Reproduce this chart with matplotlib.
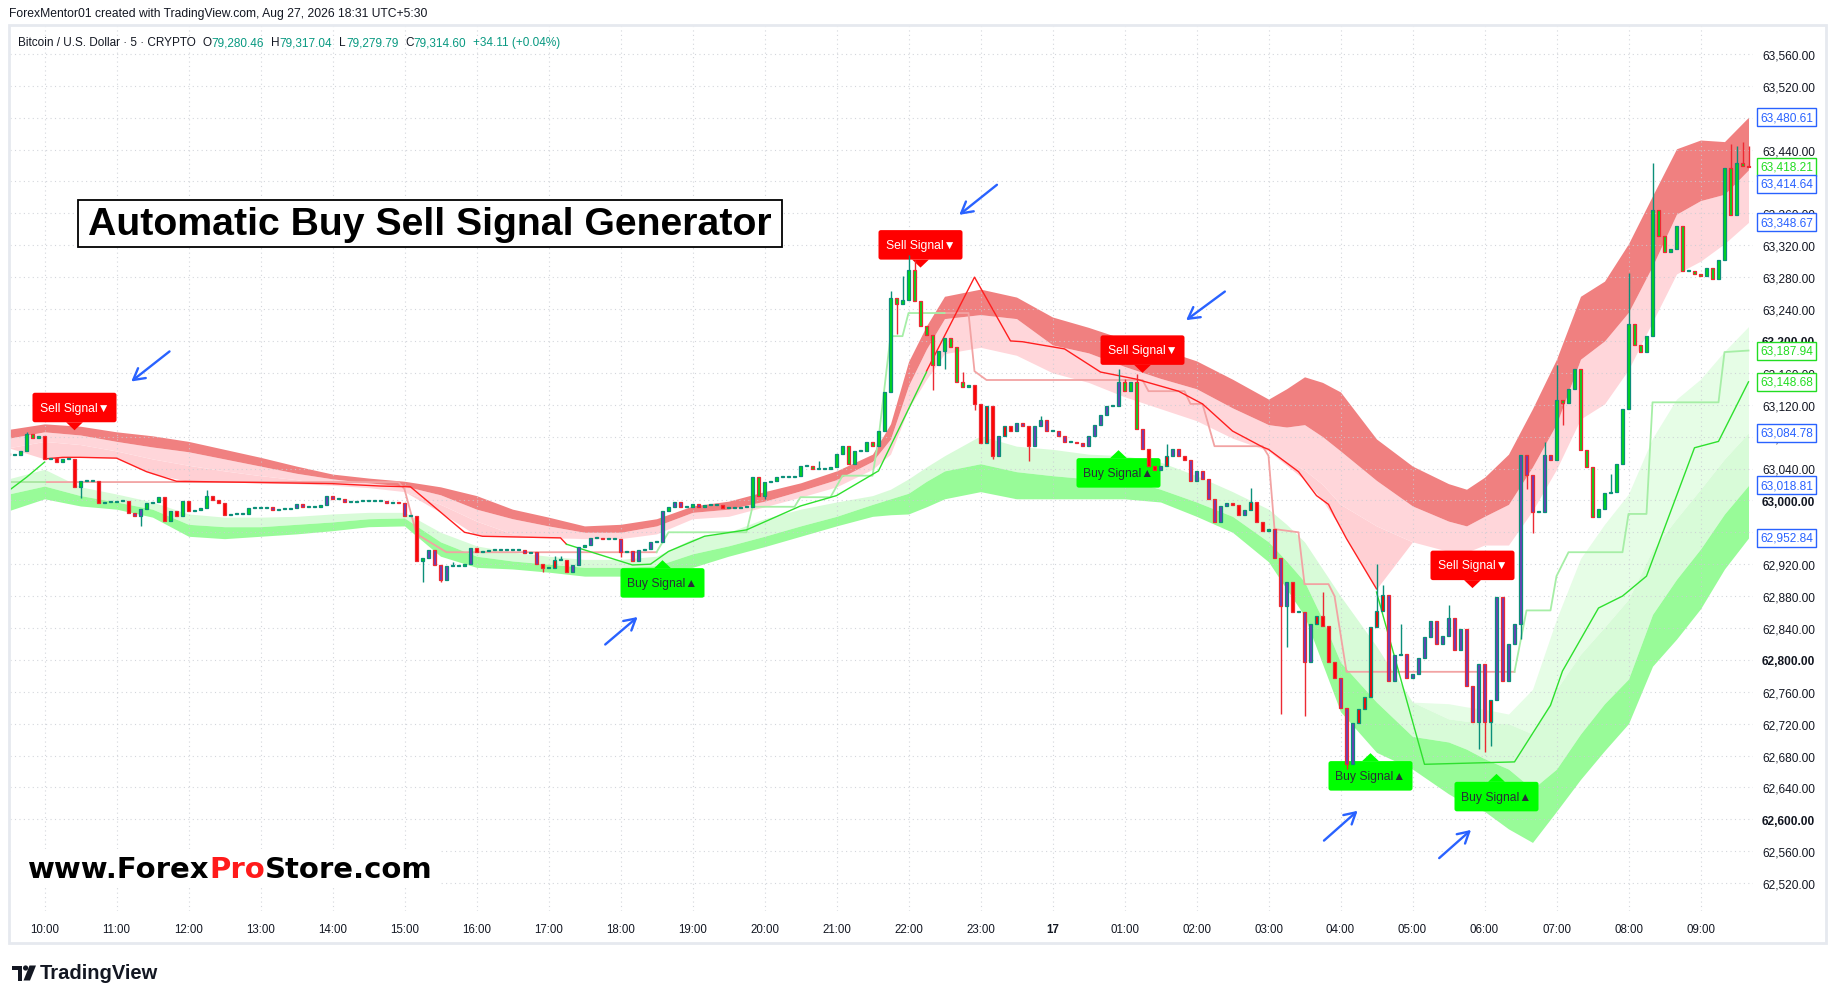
import matplotlib
matplotlib.use("Agg")
import matplotlib.pyplot as plt
from matplotlib.patches import Rectangle, Polygon, FancyBboxPatch, Circle
import numpy as np
import pandas as pd

plt.rcParams["font.family"] = ["Liberation Sans", "DejaVu Sans"]

# ---------------- candles: 5-minute bars, 09:30 (day 16) -> 09:40 (day 17) ----------------
first_open = 63060
closes = [
    63057, 63057, 63062, 63083, 63078, 63081,
    63052, 63053, 63048, 63052, 63052, 63017, 63024, 63024, 63024, 62997, 62998, 62998,
    62999, 62999, 62984, 62980, 62989, 62997, 62998, 63004, 62974, 62987, 62980, 62999,
    62987, 62988, 62990, 63006, 63000, 62997, 62982, 62983, 62983, 62983, 62990, 62990,
    62990, 62992, 62988, 62989, 62989, 62990, 62995, 62992, 62992, 62992, 62994, 63006,
    63002, 63002, 62998, 62998, 62999, 62999, 62999, 62999, 62999, 62997, 62998, 62997,
    62980, 62980, 62924, 62928, 62938, 62919, 62900, 62918, 62918, 62918, 62920, 62940,
    62935, 62937, 62938, 62938, 62938, 62938, 62938, 62938, 62934, 62935, 62920, 62915,
    62915, 62925, 62925, 62910, 62919, 62942, 62944, 62953, 62953, 62952, 62952, 62952,
    62935, 62937, 62924, 62938, 62939, 62948, 62948, 62987, 62992, 62998, 62992, 62992,
    62995, 62992, 62994, 62994, 62994, 62990, 62990, 62990, 62992, 62992, 63029, 63006,
    63023, 63024, 63029, 63029, 63029, 63031, 63043, 63043, 63039, 63039, 63039, 63042,
    63058, 63068, 63046, 63062, 63062, 63073, 63068, 63087, 63136, 63254, 63246, 63251,
    63289, 63250, 63219, 63207, 63170, 63187, 63204, 63192, 63149, 63142, 63145, 63121,
    63072, 63118, 63056, 63081, 63093, 63087, 63097, 63093, 63068, 63093, 63101, 63087,
    63087, 63081, 63073, 63073, 63072, 63068, 63081, 63095, 63107, 63118, 63118, 63149,
    63137, 63149, 63090, 63064, 63043, 63038, 63043, 63056, 63064, 63056, 63051, 63024,
    63037, 63027, 63002, 62973, 62993, 62997, 62994, 62982, 62988, 62998, 62973, 62962,
    62964, 62928, 62868, 62898, 62860, 62860, 62797, 62845, 62855, 62842, 62797, 62777,
    62740, 62669, 62721, 62738, 62753, 62841, 62861, 62881, 62773, 62806, 62807, 62777,
    62782, 62802, 62829, 62849, 62820, 62830, 62852, 62812, 62839, 62767, 62722, 62795,
    62722, 62750, 62879, 62773, 62820, 62845, 63057, 63032, 62985, 62985, 63057, 63051,
    63126, 63122, 63140, 63165, 63063, 63042, 62979, 62989, 63009, 63011, 63046, 63115,
    63221, 63195, 63186, 63206, 63364, 63332, 63312, 63315, 63344, 63288, 63288, 63284,
    63281, 63292, 63278, 63302, 63417, 63358, 63423, 63420, 63418,
]
# body colour state per bar: g = green, r = red, p = purple
fills = ("grgggg"
         "rrrggrggrrrr" "grrppgggrgrg" "rgggrrrrgrgr" "ggprggpprggp" "pgprgggggppp"
         "pgrgppppgggp" "rggrrrgrpgpr" "grrrppgprgrg" "pgppgprpgppg" "gpgggrrrgggg"
         "ggggrggggrrg" "ggggrggggggg" "gggggggggggr" "rrrprrpprppp" "rppppppppprp"
         "gggprrprpprp" "pppppprrprrr" "gppprgpprrrr" "ppprrrrrppgp" "pppppppppppp"
         "prppppppprpp" "gggggggggggg" "gggggggggggg" "ggggggggr")
wick_hi = [("09:45", 63086), ("12:15", 63013), ("15:40", 62923), ("17:05", 62930), ("17:10", 62930),
           ("20:45", 63049), ("21:45", 63263), ("21:55", 63281), ("22:00", 63308), ("22:05", 63302),
           ("22:45", 63161), ("23:50", 63106), ("00:55", 63165), ("01:00", 63152), ("01:10", 63159),
           ("01:35", 63071), ("02:45", 63016), ("03:45", 62885), ("04:30", 62920), ("04:35", 62894),
           ("04:50", 62845), ("05:30", 62869), ("06:50", 63073), ("07:00", 63170), ("07:45", 63033),
           ("08:00", 63285), ("08:20", 63423), ("09:25", 63447), ("09:30", 63444), ("09:35", 63450),
           ("09:40", 63445)]
wick_lo = [("10:30", 63003), ("11:20", 62968), ("15:15", 62898), ("15:30", 62898), ("16:55", 62910),
           ("18:00", 62929), ("20:00", 63002), ("21:50", 63209), ("22:20", 63138), ("22:30", 63165),
           ("22:55", 63113), ("23:10", 63052), ("23:40", 63049), ("03:10", 62732), ("03:15", 62816),
           ("03:30", 62730), ("04:05", 62663), ("04:20", 62740), ("05:55", 62688), ("06:00", 62684),
           ("06:05", 62692), ("06:30", 62826), ("06:35", 63014), ("06:40", 62959), ("07:05", 63095)]

# ---------------- cloud bands ----------------
band_t = ["09:30", "10:00", "10:30", "11:00", "11:30", "12:00", "12:30", "13:00", "13:30", "14:00",
          "14:30", "15:00", "15:30", "16:00", "16:30", "17:00", "17:30", "18:00", "18:30", "19:00",
          "19:30", "20:00", "20:30", "21:00", "21:30", "21:45", "22:00", "22:15", "22:30", "23:00",
          "23:30", "00:00", "00:30", "01:00", "01:30", "02:00", "02:30", "03:00", "03:15", "03:30",
          "03:45", "04:00", "04:30", "05:00", "05:30", "05:45", "06:00", "06:20", "06:40", "07:00",
          "07:20", "07:40", "08:00", "08:20", "08:40", "09:00", "09:20", "09:40"]
red_top = [63089, 63096, 63093, 63086, 63081, 63074, 63064, 63054, 63043, 63033,
           63028, 63024, 63017, 63006, 62989, 62979, 62968, 62970, 62977, 62993,
           62999, 63011, 63022, 63037, 63058, 63096, 63174, 63219, 63256, 63265,
           63255, 63230, 63217, 63202, 63190, 63175, 63152, 63127, 63140, 63155,
           63148, 63136, 63077, 63043, 63021, 63014, 63029, 63058, 63115, 63177,
           63256, 63275, 63322, 63382, 63441, 63452, 63450, 63480.61]
red_mid = [63078, 63086, 63082, 63074, 63067, 63061, 63052, 63043, 63034, 63027,
           63022, 63018, 63007, 62989, 62977, 62968, 62960, 62960, 62968, 62985,
           62989, 62999, 63012, 63026, 63049, 63077, 63144, 63190, 63228, 63233,
           63228, 63195, 63185, 63168, 63153, 63140, 63116, 63095, 63092, 63095,
           63080, 63062, 63025, 62993, 62974, 62968, 62980, 62995, 63042, 63096,
           63177, 63200, 63236, 63294, 63359, 63376, 63384, 63414.64]
red_low = [63066, 63074, 63070, 63062, 63052, 63044, 63037, 63031, 63026, 63019,
           63016, 63011, 62995, 62974, 62958, 62954, 62952, 62952, 62958, 62977,
           62980, 62992, 63004, 63017, 63039, 63058, 63115, 63152, 63184, 63192,
           63182, 63160, 63148, 63130, 63115, 63100, 63078, 63062, 63050, 63038,
           63020, 62995, 62968, 62948, 62936, 62935, 62944, 62944, 62987, 63039,
           63102, 63121, 63164, 63224, 63284, 63300, 63322, 63348.67]
pink_low = [63066, 63052, 63054, 63053, 63033, 63024, 63023, 63022, 63021, 63019,
            63016, 63011, 62985, 62956, 62954, 62953, 62952, 62952, 62958, 62977,
            62980, 62992, 63004, 63017, 63039, 63058, 63115, 63152, 63184, 63192,
            63182, 63160, 63148, 63130, 63115, 63100, 63078, 63062, 63044, 63026,
            63000, 62966, 62889, 62948, 62936, 62935, 62944, 62944, 62987, 63039,
            63102, 63121, 63164, 63224, 63284, 63300, 63322, 63348.67]
green_glow = [63027, 63039, 63017, 63008, 62998, 62983, 62979, 62979, 62980, 62983,
              62985, 62985, 62960, 62943, 62935, 62930, 62926, 62926, 62930, 62952,
              62960, 62977, 62989, 62998, 63006, 63014, 63027, 63042, 63056, 63081,
              63068, 63064, 63058, 63056, 63048, 63031, 63011, 62989, 62970, 62948,
              62914, 62880, 62817, 62747, 62745, 62741, 62738, 62732, 62763, 62851,
              62927, 62970, 63008, 63078, 63127, 63152, 63187, 63218]
green_top = [63027, 63039, 63017, 63008, 62998, 62983, 62979, 62979, 62980, 62983,
             62985, 62985, 62960, 62943, 62935, 62930, 62926, 62926, 62930, 62952,
             62960, 62977, 62989, 62998, 63006, 63014, 63027, 63042, 63056, 63081,
             63068, 63064, 63058, 63056, 63048, 63031, 63011, 62989, 62970, 62948,
             62914, 62880, 62817, 62747, 62726, 62723, 62722, 62720, 62707, 62763,
             62807, 62841, 62876, 62938, 62977, 63014, 63052, 63084.78]
green_mid = [63008, 63018, 63006, 62998, 62989, 62970, 62967, 62967, 62970, 62973,
             62977, 62978, 62948, 62930, 62924, 62920, 62916, 62916, 62918, 62933,
             62943, 62955, 62968, 62980, 62995, 63002, 63009, 63024, 63037, 63046,
             63036, 63031, 63027, 63027, 63014, 62998, 62980, 62948, 62924, 62898,
             62851, 62797, 62747, 62704, 62697, 62688, 62676, 62663, 62638, 62663,
             62707, 62745, 62776, 62857, 62901, 62939, 62983, 63018.81]
green_low = [62987, 63002, 62993, 62989, 62979, 62955, 62952, 62955, 62958, 62962,
             62967, 62968, 62930, 62916, 62914, 62910, 62905, 62905, 62910, 62916,
             62930, 62942, 62955, 62968, 62980, 62982, 62983, 62992, 63002, 63011,
             63002, 63002, 63002, 63002, 62998, 62980, 62960, 62923, 62889, 62855,
             62795, 62735, 62684, 62663, 62632, 62619, 62610, 62588, 62571, 62610,
             62650, 62686, 62720, 62792, 62826, 62864, 62914, 62952.84]

# ---------------- thin trailing lines (segments) ----------------
red_line = [
    (["10:00", "10:15", "10:30", "11:00", "11:25", "11:50", "14:00", "14:40", "15:05", "15:50",
      "16:05", "17:10", "17:15"],
     [63052, 63054, 63054, 63053, 63036, 63024, 63021, 63018, 63017, 62960, 62955, 62953, 62945]),
    (["22:15", "22:55", "23:25", "23:35", "00:10", "00:40", "01:10", "01:45", "02:05", "02:30",
      "02:55", "03:00", "03:25", "03:40", "03:50", "03:55", "04:05", "04:30"],
     [63162, 63280, 63200, 63199, 63190, 63161, 63152, 63137, 63121, 63087,
      63067, 63064, 63036, 63006, 62995, 62980, 62952, 62889]),
]
green_line = [
    (["09:30", "09:45", "10:00"], [63012, 63029, 63048]),
    (["17:15", "18:10", "18:25", "18:40", "19:10", "19:45", "20:30", "21:00", "21:35", "22:15"],
     [62945, 62919, 62920, 62936, 62955, 62963, 62993, 63006, 63037, 63161]),
    (["04:30", "05:10", "06:25", "06:55", "07:05", "07:35", "07:55", "08:15", "08:55", "09:15", "09:40"],
     [62885, 62669, 62672, 62743, 62786, 62865, 62880, 62905, 63066, 63074, 63148.68]),
]
red_step = [
    (["09:30", "14:55", "15:00", "15:10", "15:35", "18:30"], [63023, 63023, 63014, 62958, 62935, 62935]),
    (["22:30", "22:50", "22:55", "23:05", "01:15", "01:20", "01:50", "01:55", "02:05", "02:15",
      "02:55", "03:00", "03:05", "03:25", "03:30", "03:50", "03:55", "04:05", "06:25"],
     [63235, 63235, 63162, 63151, 63151, 63137, 63137, 63121, 63121, 63068,
      63068, 63056, 62964, 62960, 62895, 62895, 62880, 62785, 62785]),
]
green_step = [
    (["09:30", "10:00"], [63023, 63023]),
    (["18:30", "18:40", "19:45", "19:50", "20:25", "20:30", "20:55", "21:05", "21:30", "21:35",
      "21:45", "21:55", "22:00", "22:30"],
     [62935, 62960, 62960, 62992, 62992, 63004, 63004, 63031, 63031, 63077, 63206, 63206, 63235, 63235]),
    (["06:25", "06:35", "06:55", "07:00", "07:10", "07:55", "08:00", "08:15", "08:20", "09:15",
      "09:20", "09:40"],
     [62785, 62862, 62862, 62905, 62935, 62935, 62983, 62983, 63123, 63123, 63186, 63187.94]),
]

# signal labels: (kind, bar time, price at the pointer tip)
signals = [("Sell", "10:25", 63088), ("Sell", "22:10", 63292), ("Sell", "01:15", 63160),
           ("Sell", "05:50", 62890), ("Buy", "18:35", 62925), ("Buy", "00:55", 63063),
           ("Buy", "04:25", 62683), ("Buy", "06:10", 62657)]
# hand-drawn blue arrows: (tail, head) as (bar, price)
arrows = [((27.2, 63189), (20.1, 63147)), ((165.1, 63398), (158.1, 63356)),
          ((203.1, 63264), (195.9, 63224)), ((99.1, 62817), (105.2, 62856)),
          ((218.9, 62571), (225.2, 62613)), ((238.1, 62549), (244.1, 62589))]
price_tags = [63480.61, 63418.21, 63414.64, 63348.67, 63187.94, 63148.68, 63084.78, 63018.81, 62952.84]
tag_kind = ["b", "g", "b", "b", "g", "g", "b", "b", "b"]

TEXT = "#131722"
TEAL = "#0b8f7a"
RED_EDGE = "#ec2a33"
FILL = {"g": "#00d81a", "r": "#ff0000", "p": "#6a3db8"}
BLUE = "#2962ff"
LGREEN = "#22dd22"


def to_idx(times):
    out, prev = [], -1
    for t in times:
        h, m = map(int, t.split(":"))
        mins = h * 60 + m
        if mins < 570:
            mins += 1440
        while mins < prev:
            mins += 1440
        prev = mins
        out.append((mins - 570) / 5)
    return np.array(out)


W, H = 1835, 1004
fig = plt.figure(figsize=(W / 100, H / 100), dpi=100)
fig.patch.set_facecolor("white")
ax = fig.add_axes([10 / W, 1 - 912 / H, 1743 / W, 885 / H])
ax.set_xlim(0.25, 290.75)
ax.set_ylim(62485, 63595)
for s in ax.spines.values():
    s.set_visible(False)

# bands
bx = to_idx(band_t)
ax.fill_between(bx, pink_low, red_low, color="#ffd0d4", lw=0, zorder=1)
ax.fill_between(bx, red_low, red_mid, color="#ffd6da", lw=0, zorder=1)
ax.fill_between(bx, red_mid, red_top, color="#f08080", lw=0, zorder=1)
ax.fill_between(bx, green_top, green_glow, color="#e6fde6", lw=0, zorder=1)
ax.fill_between(bx, green_mid, green_top, color="#d8fbd8", lw=0, zorder=1)
ax.fill_between(bx, green_low, green_mid, color="#98fb98", lw=0, zorder=1)

# grid above the clouds, as in the reference
ax.set_axisbelow(False)
ax.grid(True, color="#c9ccd3", lw=0.8, ls=(0, (1, 3)), alpha=0.8)

for t, v in red_step:
    ax.plot(to_idx(t), v, color="#f2a3a3", lw=1.3, zorder=2.6)
for t, v in green_step:
    ax.plot(to_idx(t), v, color="#a6eea6", lw=1.3, zorder=2.6)
for t, v in red_line:
    ax.plot(to_idx(t), v, color="#ff1f1f", lw=1.0, zorder=2.7)
for t, v in green_line:
    ax.plot(to_idx(t), v, color="#2ee02e", lw=1.0, zorder=2.7)

# signal labels (below candles)
for kind, t, p in signals:
    xi = to_idx([t])[0]
    if kind == "Sell":
        col, txtc, base, y0, txt = "#ff0000", "white", p + 10, p + 10, "Sell Signal\u25bc"
    else:
        col, txtc, base, y0, txt = "#00ff00", "#2a2e39", p - 10, p - 10 - 37, "Buy Signal\u25b2"
    ax.add_patch(Polygon([(xi - 1.4, base), (xi + 1.4, base), (xi, p)], closed=True,
                         fc=col, ec="none", zorder=2.8))
    ax.add_patch(FancyBboxPatch((xi - 7, y0), 14, 37, boxstyle="round,pad=0,rounding_size=0.4",
                                mutation_aspect=7.5, fc=col, ec="none", zorder=2.8))
    ax.text(xi, y0 + 18.5, txt, ha="center", va="center", fontsize=8.7, color=txtc,
            family=["Liberation Sans", "DejaVu Sans"], zorder=2.85)

# candles
closes_a = np.array(closes, dtype=float)
n = len(closes_a)
x = np.arange(n)
opens = np.r_[first_open, closes_a[:-1]]
hi = np.maximum(opens, closes_a)
lo = np.minimum(opens, closes_a)
for i, (_, v) in zip(to_idx([t for t, _ in wick_hi]).astype(int), wick_hi):
    hi[i] = max(hi[i], v)
for i, (_, v) in zip(to_idx([t for t, _ in wick_lo]).astype(int), wick_lo):
    lo[i] = min(lo[i], v)
edge = np.where(closes_a >= opens, TEAL, RED_EDGE)
ax.vlines(x, lo, hi, colors=edge, lw=1.0, zorder=3)
ax.bar(x, np.maximum(np.abs(closes_a - opens), 1.2), bottom=np.minimum(opens, closes_a),
       width=0.62, color=[FILL[c] for c in fills], edgecolor=edge, linewidth=0.9, zorder=4)

for tail, head in arrows:
    ax.annotate("", xy=head, xytext=tail, annotation_clip=False, zorder=6,
                arrowprops=dict(arrowstyle="->,head_length=0.8,head_width=0.45", color=BLUE, lw=1.7))

# axes: time and price scales
times = pd.date_range("2026-08-16 09:30", periods=n, freq="5min")
hpos = [i for i, tt in enumerate(times) if tt.minute == 0]
hlab = ["17" if times[i].hour == 0 else times[i].strftime("%H:00") for i in hpos]
ax.set_xticks(hpos)
ax.set_xticklabels(hlab)
for lab in ax.get_xticklabels():
    if lab.get_text() == "17":
        lab.set_fontweight("bold")
ax.tick_params(axis="x", length=0, pad=9, labelsize=8.3, labelcolor=TEXT)
yt = np.arange(62520, 63561, 40)
ax.set_yticks(yt)
ax.set_yticklabels([f"{v:,.2f}" for v in yt])
ax.yaxis.tick_right()
ax.tick_params(axis="y", length=0, pad=6.5, labelsize=8.6, labelcolor=TEXT)
for v, lab in zip(yt, ax.get_yticklabels()):
    if v % 200 == 0:
        lab.set_fontweight("bold")

# price-scale tags, stacked so they do not overlap (as TradingView does)
prev_px = 1e9
for p, k in sorted(zip(price_tags, tag_kind), key=lambda z: -z[0]):
    c = BLUE if k == "b" else LGREEN
    px = ax.transData.transform((0, p))[1]
    if prev_px - px < 17:
        px = prev_px - 17
    prev_px = px
    yp = ax.transData.inverted().transform((0, px))[1]
    ax.text(1.0040, yp, f"{p:,.2f}", transform=ax.get_yaxis_transform(), ha="left", va="center",
            fontsize=8.6, color=c, zorder=7, clip_on=False,
            bbox=dict(boxstyle="square,pad=0.25", fc="white", ec=c, lw=1.0))

# ---------------- overlay in pixel coordinates ----------------
ov = fig.add_axes([0, 0, 1, 1], zorder=10)
ov.set_xlim(0, W)
ov.set_ylim(H, 0)
ov.axis("off")
ov.patch.set_alpha(0)
rend = fig.canvas.get_renderer()

ov.add_patch(Rectangle((9, 26), 1817, 918, fill=False, ec="#e6e9ef", lw=2))

ov.text(9, 14, "ForexMentor01 created with TradingView.com, Aug 27, 2026 18:31 UTC+5:30",
        fontsize=8.7, color=TEXT, va="center", ha="left")


def put_row(xs, y, parts, size, weight="normal", family=None):
    for txt, col, gap in parts:
        kw = {} if family is None else {"family": family}
        tt = ov.text(xs, y, txt, fontsize=size, color=col, va="baseline", ha="left",
                     fontweight=weight, **kw)
        xs += tt.get_window_extent(renderer=rend).width + gap
    return xs


VAL = "#089981"
put_row(18, 46, [("Bitcoin / U.S. Dollar \u00b7 5 \u00b7 CRYPTO", TEXT, 7), ("O", TEXT, 0), ("79,280.46", VAL, 7),
                 ("H", TEXT, 0), ("79,317.04", VAL, 7), ("L", TEXT, 0), ("79,279.79", VAL, 7),
                 ("C", TEXT, 0), ("79,314.60", VAL, 7), ("+34.11 (+0.04%)", VAL, 0)], 8.5)

# title box
ov.add_patch(Rectangle((78, 201), 704, 47, fc="white", ec="black", lw=1.3))
ov.text(430, 225, "Automatic Buy Sell Signal Generator", fontsize=28.3, fontweight="bold",
        color="black", ha="center", va="center")

# website watermark
ov.add_patch(Rectangle((11, 850), 430, 38, fc="white", ec="none"))
put_row(28, 878, [("www.Forex", "black", 0), ("Pro", "#ff1a1a", 0), ("Store.com", "black", 0)],
        21, weight="bold", family="DejaVu Sans")

# TradingView logo
LOGO = "#131722"
ov.add_patch(Rectangle((12, 966.5), 10, 4.5, fc=LOGO, ec="none"))
ov.add_patch(Rectangle((17.5, 966.5), 4.5, 15, fc=LOGO, ec="none"))
ov.add_patch(Circle((25.6, 969), 2.6, fc=LOGO, ec="none"))
ov.add_patch(Polygon([(29.5, 966.5), (36, 966.5), (30, 981.5), (23.5, 981.5)], fc=LOGO, ec="none"))
ov.text(40, 974, "TradingView", fontsize=14.5, fontweight="bold", color=LOGO, va="center", ha="left")

fig.savefig("out.png", dpi=100, facecolor="white")
